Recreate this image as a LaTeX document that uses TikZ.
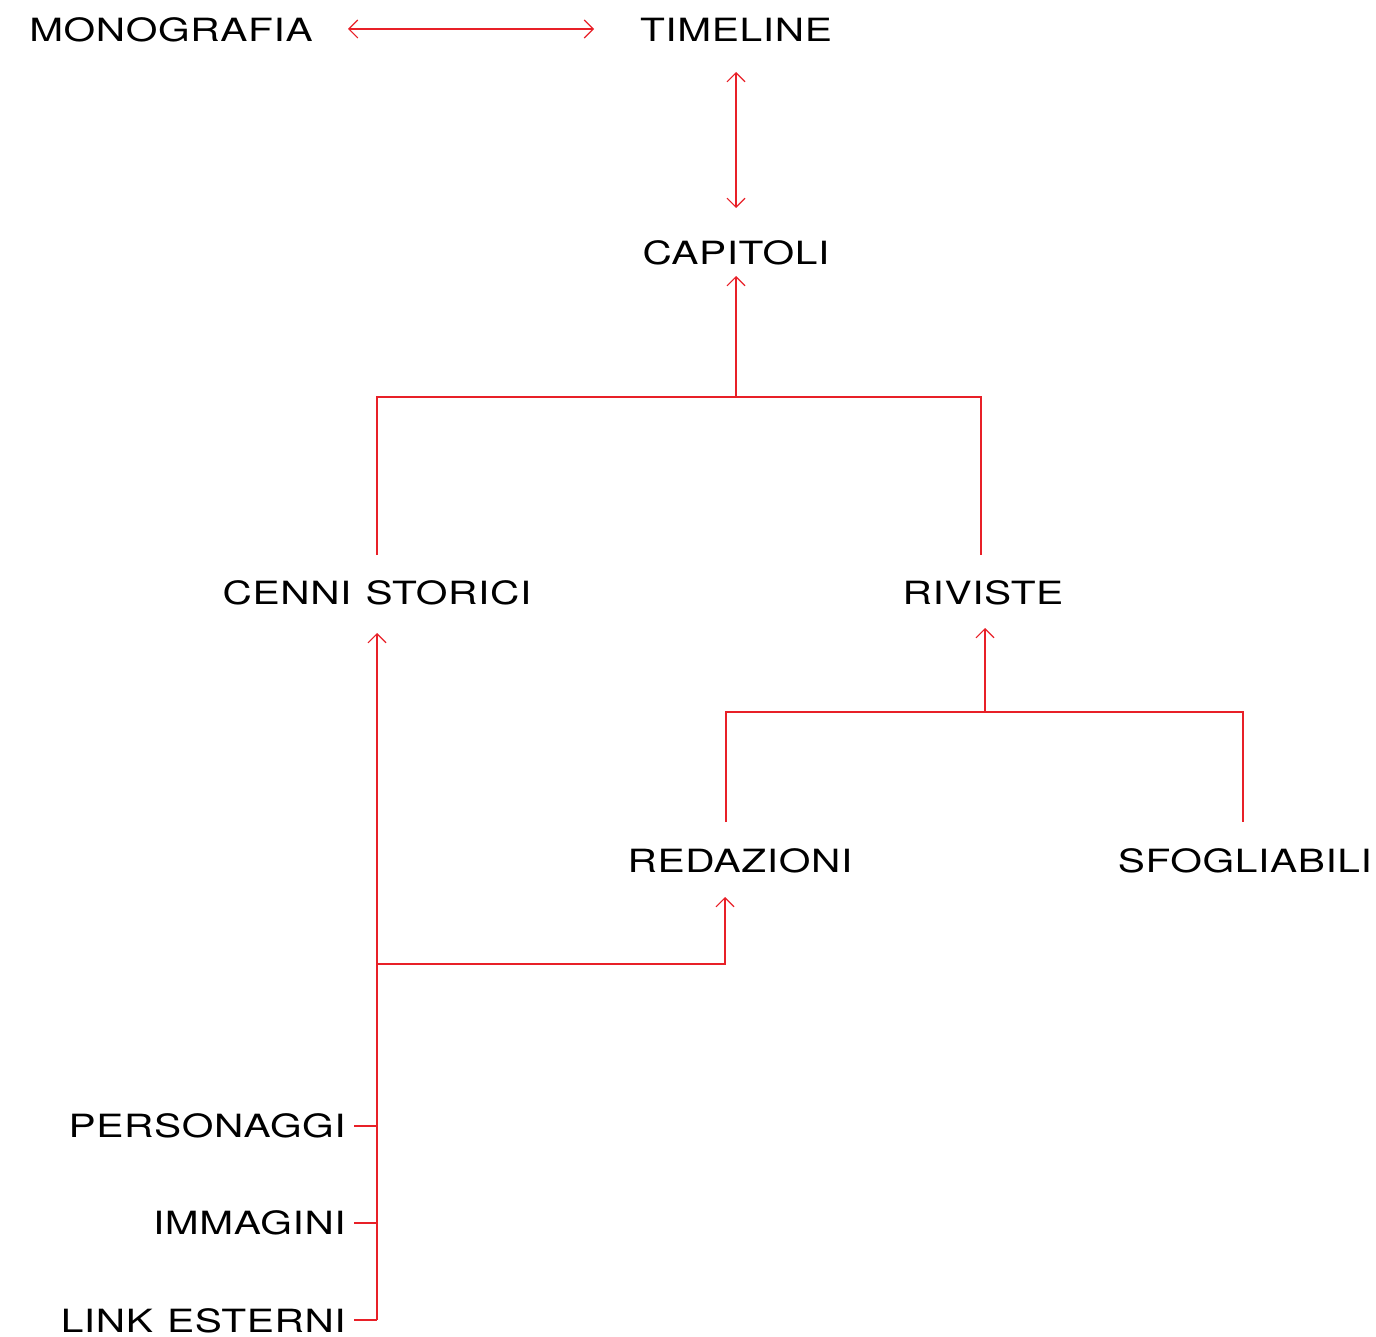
\documentclass[tikz,border=0pt]{standalone}
\usepackage{fontspec}
\setmainfont{TeX Gyre Heros}[FakeStretch=1.27, LetterSpace=2]
\usetikzlibrary{arrows.meta}
\definecolor{lred}{RGB}{232,32,40}
\newcommand{\wsp}{\hspace{14pt}}
\tikzset{
  lbl/.style={inner sep=0pt, font=\fontsize{32}{32}\selectfont, text=black},
  ln/.style={draw=lred, line width=1.1pt},
  arr/.style={ln, -{Straight Barb[length=9pt,width=18pt,line width=1.1pt]}},
  darr/.style={ln, {Straight Barb[length=9pt,width=18pt,line width=1.1pt]}-{Straight Barb[length=9pt,width=18pt,line width=1.1pt]}}
}
\begin{document}
\begin{tikzpicture}[x=1pt,y=-1pt]
\useasboundingbox (0,0) rectangle (1376,1337);
% nodes
\node[lbl] (mono) at (171,30) {MONOGRAFIA};
\node[lbl] (time) at (736,30) {TIMELINE};
\node[lbl] (cap) at (736,253) {CAPITOLI};
\node[lbl] (cenni) at (377,593) {CENNI\wsp STORICI};
\node[lbl] (riv) at (983,593) {RIVISTE};
\node[lbl] (red) at (740,861) {REDAZIONI};
\node[lbl] (sfo) at (1245,861) {SFOGLIABILI};
\node[lbl,anchor=east] (pers) at (346,1126) {PERSONAGGI};
\node[lbl,anchor=east] (imm) at (346,1223) {IMMAGINI};
\node[lbl,anchor=east] (link) at (346,1321) {LINK\wsp ESTERNI};
% junctions
\coordinate (j1) at (736,397);
\coordinate (cl) at (377,555);
\coordinate (cr) at (981,555);
\coordinate (j2) at (985,712);
\coordinate (rl) at (726,822);
\coordinate (rr) at (1243,822);
\coordinate (j3) at (377,964);
\coordinate (rt) at (725,897);
\coordinate (b) at (377,1320);
% connectors
\draw[darr] (348,29) coordinate (ma) -- (594,29) coordinate (mb);
\draw[darr] (736,72) coordinate (ta) -- (736,208) coordinate (tb);
\draw[arr] (j1) -- (736,276) coordinate (ct);
\draw[ln] (cl) |- (j1) -| (cr);
\draw[arr] (j2) -- (985,628) coordinate (rvt);
\draw[ln] (rl) |- (j2) -| (rr);
\draw[arr] (b) -- (377,633) coordinate (cnt);
\draw[arr] (j3) -| (rt);
\draw[ln] ([xshift=8pt]pers.east) -- (pers.east -| b);
\draw[ln] ([xshift=8pt]imm.east) -- (imm.east -| b);
\draw[ln] ([xshift=8pt]link.east |- b) -- (b);
\end{tikzpicture}
\end{document}
